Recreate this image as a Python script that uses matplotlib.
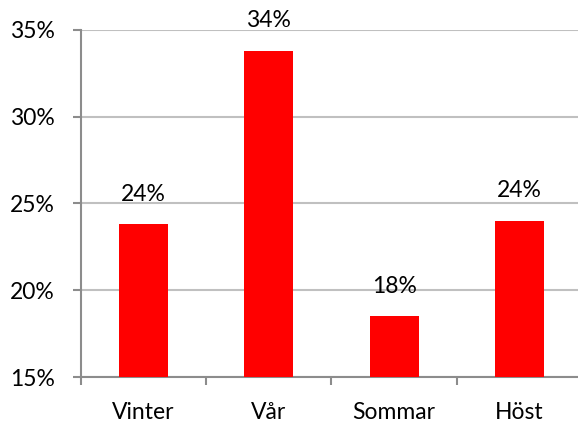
import matplotlib.pyplot as plt
from matplotlib.ticker import FixedLocator

# seasons and share (%)
seasons = ["Vinter", "Vår", "Sommar", "Höst"]
shares = [23.8, 33.8, 18.5, 24.0]
labels = ["24%", "34%", "18%", "24%"]
yticks = [15, 20, 25, 30, 35]

plt.rcParams['font.family'] = ['Lato', 'DejaVu Sans']

fig = plt.figure(figsize=(5.78, 4.22), dpi=100)
ax = fig.add_axes([81 / 578, 1 - 377 / 422, 501 / 578, 347 / 422])

x = list(range(len(seasons)))
ax.bar(x, [s - 15 for s in shares], bottom=15, width=0.39, color="#ff0000", zorder=3)

for xi, s, lab in zip(x, shares, labels):
    ax.annotate(lab, (xi, s), xytext=(0, 14), textcoords="offset points",
                ha="center", va="bottom", fontsize=16.5, color="black")

ax.set_xlim(-0.5, 3.5)
ax.set_ylim(15, 35)
ax.set_yticks(yticks)
ax.set_yticklabels([f"{t}%" for t in yticks])
ax.set_xticks(x)
ax.set_xticklabels(seasons)
ax.xaxis.set_minor_locator(FixedLocator([-0.5, 0.5, 1.5, 2.5, 3.5]))

ax.grid(axis="y", color="#c0c0c0", lw=1.5, zorder=0)
for side in ["top", "right"]:
    ax.spines[side].set_visible(False)
for side in ["left", "bottom"]:
    ax.spines[side].set_color("#8c8c8c")
    ax.spines[side].set_linewidth(1.5)

ax.tick_params(axis="y", length=5.8, width=1.5, color="#8c8c8c", pad=13, labelsize=16.5)
ax.tick_params(axis="x", which="major", length=0, pad=18, labelsize=16.5)
ax.tick_params(axis="x", which="minor", length=5.8, width=1.5, color="#8c8c8c")

fig.savefig("out.png", dpi=100)
